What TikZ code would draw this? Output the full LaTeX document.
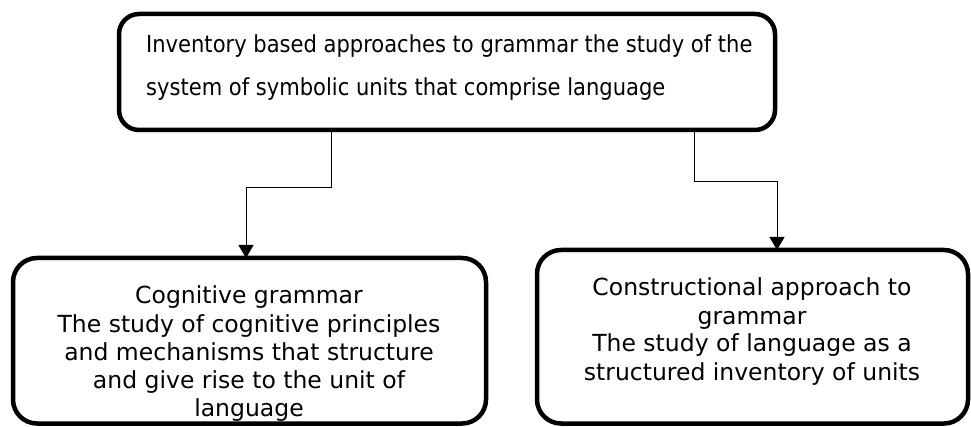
\documentclass[tikz,border=0pt]{standalone}
\usepackage{fontspec}
\setmainfont{DejaVu Sans}
\newfontfamily\topfont{DejaVu Sans Condensed}
\usetikzlibrary{arrows.meta}
\begin{document}
\begin{tikzpicture}[x=1pt,y=-1pt,
  boxline/.style={draw=black,line width=4.5pt,rounded corners=24pt},
  conn/.style={draw=black,line width=1pt},
  tip/.style={-{Triangle[width=15pt,length=13pt]}},
  toptxt/.style={anchor=base west,inner sep=0pt,font=\topfont\fontsize{23.4}{27}\selectfont},
  bottxt/.style={anchor=base,inner sep=0pt,font=\fontsize{23.5}{28}\selectfont}]
\useasboundingbox (0,0) rectangle (971,427);
% top box
\node[toptxt] (t1) at (146,53) {Inventory based approaches to grammar the study of the};
\node[toptxt] (t2) at (146,96) {system of symbolic units that comprise language};
\draw[boxline,rounded corners=20pt] (119,14) rectangle (775,130);
% bottom left box
\begin{scope}
\clip (13,258) rectangle (486,421);
\foreach \t [count=\i] in {Cognitive grammar,The study of cognitive principles,and mechanisms that structure,and give rise to the unit of,language}
  \node[bottxt] (bl\i) at (249,{304+28*(\i-1)}) {\t};
\end{scope}
\draw[boxline] (13,258) rectangle (486,423.5);
% bottom right box
\foreach \t [count=\i] in {Constructional approach to,grammar,The study of language as a,structured inventory of units}
  \node[bottxt] (br\i) at (752,{296+28*(\i-1)}) {\t};
\draw[boxline] (537,250) rectangle (968,423.5);
% connectors
\coordinate (sL) at (331,130);
\coordinate (eL) at (246,258);
\coordinate (sR) at (694,130);
\coordinate (eR) at (777,250);
\draw[conn,tip] (sL) -- (331,188) -- (246,188) -- (eL);
\draw[conn,tip] (sR) -- (694,182) -- (777,182) -- (eR);
\end{tikzpicture}
\end{document}
